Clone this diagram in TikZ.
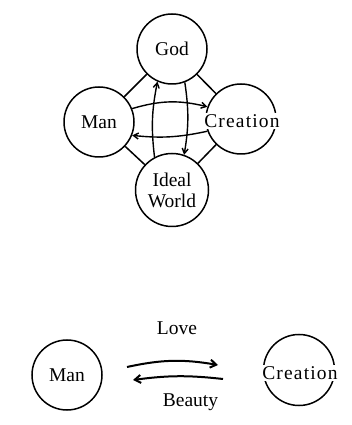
\documentclass[tikz,border=0pt]{standalone}
\usepackage{fontspec}
\setmainfont{Liberation Serif}
\newfontfamily\widefont[LetterSpace=6]{Liberation Serif}
\usetikzlibrary{arrows.meta}
\begin{document}
\begin{tikzpicture}[x=1pt,y=1pt,
  circ/.style={draw,circle,line width=1.5pt,minimum size=70pt,inner sep=0pt,font=\fontsize{19.5}{22}\selectfont},
  lab/.style={font=\fontsize{19.5}{22}\selectfont,inner sep=1pt},
  link/.style={line width=1.5pt},
  arr/.style={line width=1.4pt,-{Straight Barb[length=5pt,width=6pt]}},
  barr/.style={line width=2pt,-{Straight Barb[length=6pt,width=8pt]}}]
\useasboundingbox (0,0) rectangle (352,425);
% top diagram
\node[circ] (God) at (172,376) {God};
\node[circ] (Man) at (99,303) {Man};
\node[circ] (Cre) at (241,306) {};
\node[circ,minimum size=73pt,align=center] (Ideal) at (172,235) {Ideal\\[-1pt]World};
\node[lab,fill=white] (CreLab) at (242,304) {\widefont Creation};
\draw[link] (God) -- (Man);
\draw[link] (God) -- (Cre);
\draw[link] (Man) -- (Ideal);
\draw[link] (Cre) -- (Ideal);
\draw[arr] (Man.22) to[bend left=15] (Cre.160);
\draw[arr] (Cre.200) to[bend left=9] (Man.338);
\draw[arr] (Ideal.118) to[bend left=9] (God.246);
\draw[arr] (God.291) to[bend left=9] (Ideal.71);
% bottom diagram
\node[circ] (Man2) at (67,50) {Man};
\node[circ,minimum size=71pt] (Cre2) at (299,55) {};
\node[lab,fill=white] (Cre2Lab) at (300,52) {\widefont Creation};
\coordinate (a1) at (127,58);
\coordinate (a2) at (218,60);
\coordinate (b1) at (223,46);
\coordinate (b2) at (133,45);
\draw[barr] (a1) to[bend left=11] (a2);
\draw[barr] (b1) to[bend right=7] (b2);
\node[lab,anchor=base] (Love) at (177,90) {Love};
\node[lab,anchor=base] (Beauty) at (190.5,18) {Beauty};
\end{tikzpicture}
\end{document}
